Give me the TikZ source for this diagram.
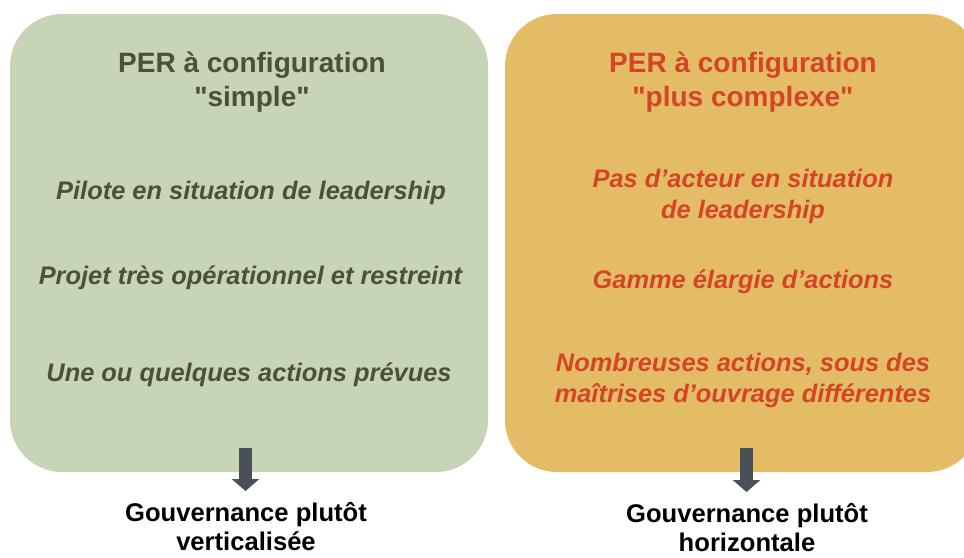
\documentclass[tikz,border=0pt]{standalone}
\usepackage{fontspec}
\setmainfont{Liberation Sans}[Ligatures=TeXOff]
\usetikzlibrary{arrows.meta}

\definecolor{sage}{RGB}{200,212,182}
\definecolor{olive}{RGB}{72,82,52}
\definecolor{ochre}{RGB}{229,188,102}
\definecolor{brick}{RGB}{212,68,38}
\definecolor{slate}{RGB}{74,80,88}

\tikzset{
  panel/.style={rounded corners=52pt, inner sep=0pt},
  heading/.style={align=center, inner sep=0pt, font=\fontsize{28}{34}\selectfont\bfseries},
  item/.style={align=center, inner sep=0pt, font=\fontsize{25.4}{31}\selectfont\bfseries\itshape},
  outcome/.style={align=center, inner sep=0pt, text=black, font=\fontsize{25.6}{29}\selectfont\bfseries},
  govarrow/.style={draw=slate, line width=13pt, -{Triangle[width=27pt,length=12pt]}}
}

\begin{document}
\begin{tikzpicture}[x=1pt,y=-1pt]
  \clip (0,0) rectangle (964,557);
  \fill[white] (0,0) rectangle (964,557);

  % the two panels
  \node[panel, fill=sage, minimum width=478pt, minimum height=458pt] (simple) at (249,243) {};
  \node[panel, fill=ochre, minimum width=474pt, minimum height=458pt] (complex) at (742,243) {};

  % simple configuration
  \node[heading, text=olive] (stitle) at (252,82) {PER à configuration\\"simple"};
  \node[item, text=olive] (s1) at (251,193) {Pilote en situation de leadership};
  \node[item, text=olive] (s2) at (250.5,278) {Projet très opérationnel et restreint};
  \node[item, text=olive] (s3) at (249,375) {Une ou quelques actions prévues};

  % more complex configuration
  \node[heading, text=brick] (ctitle) at (743,82) {PER à configuration\\"plus complexe"};
  \node[item, text=brick] (c1) at (743,196) {Pas d’acteur en situation\\de leadership};
  \node[item, text=brick] (c2) at (743,282) {Gamme élargie d’actions};
  \node[item, text=brick] (c3) at (743,380) {Nombreuses actions, sous des\\maîtrises d’ouvrage différentes};

  % resulting governance
  \node[outcome] (gov1) at (246,526.5) {Gouvernance plutôt\\verticalisée};
  \node[outcome] (gov2) at (747,528) {Gouvernance plutôt\\horizontale};

  \coordinate (a1s) at (245.5,448);
  \coordinate (a1e) at (245.5,491);
  \coordinate (a2s) at (746.5,448);
  \coordinate (a2e) at (746.5,492);
  \draw[govarrow] (a1s) -- (a1e);
  \draw[govarrow] (a2s) -- (a2e);
\end{tikzpicture}
\end{document}
